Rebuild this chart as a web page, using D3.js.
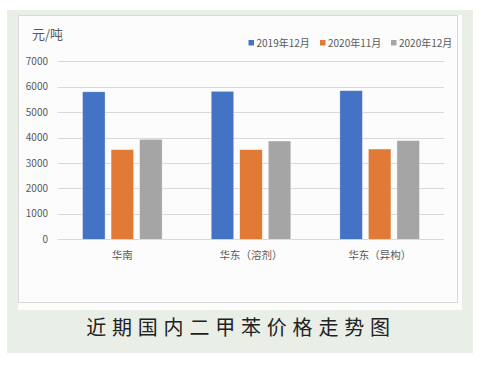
<!DOCTYPE html>
<html>
<head>
<meta charset="utf-8">
<script src="https://cdn.jsdelivr.net/npm/d3@7"></script>
<style>
  html, body { margin: 0; padding: 0; background: #fff; }
  svg { display: block; }
</style>
</head>
<body>
<svg id="chart" width="482" height="369"></svg>
<script>
const categories = ["华南", "华东（溶剂）", "华东（异构）"];
const seriesNames = ["2019年12月", "2020年11月", "2020年12月"];
const values2019Dec = [5800, 5820, 5845];
const values2020Nov = [3525, 3525, 3550];
const values2020Dec = [3930, 3865, 3880];
const yTicks = [0, 1000, 2000, 3000, 4000, 5000, 6000, 7000];
const colors = ["#4472c4", "#e07a35", "#a5a5a5"];
const unitLabel = "元/吨";
const caption = "近期国内二甲苯价格走势图";

const font = "'Noto Sans CJK SC', 'Noto Sans', sans-serif";
const svg = d3.select("#chart");

// backgrounds
svg.append("rect").attr("x", 7).attr("y", 10).attr("width", 466).attr("height", 343).attr("fill", "#e9eee7");
svg.append("rect").attr("x", 18).attr("y", 15).attr("width", 444).attr("height", 295).attr("fill", "#fcfcfc");
svg.append("rect").attr("x", 18.5).attr("y", 15.5).attr("width", 439).attr("height", 287)
  .attr("fill", "#fcfcfc").attr("stroke", "#d9d9d9").attr("stroke-width", 1);

const plot = {l: 58, r: 444, t: 61.3, b: 239.3};

const x = d3.scaleBand().domain(categories).range([plot.l, plot.r]).paddingInner(0).paddingOuter(0);
const y = d3.scaleLinear().domain([0, 7000]).range([plot.b, plot.t]);
const xs = d3.scaleBand().domain(seriesNames).range([0, x.bandwidth()]).paddingInner(0.21).paddingOuter(0.86);

// gridlines
svg.append("g").selectAll("line").data(yTicks).join("line")
  .attr("x1", plot.l).attr("x2", plot.r)
  .attr("y1", d => Math.round(y(d)) + 0.5).attr("y2", d => Math.round(y(d)) + 0.5)
  .attr("stroke", "#d9d9d9").attr("stroke-width", 1);

// y tick labels
svg.append("g").selectAll("text").data(yTicks).join("text")
  .attr("x", 48).attr("y", d => y(d) + 3.5)
  .attr("text-anchor", "end")
  .attr("font-family", font).attr("font-size", 10).attr("fill", "#595959")
  .text(d => d);

// bars
const series = [values2019Dec, values2020Nov, values2020Dec];
series.forEach((vals, si) => {
  svg.append("g").selectAll("rect").data(categories).join("rect")
    .attr("x", c => x(c) + xs(seriesNames[si]))
    .attr("width", xs.bandwidth())
    .attr("y", (c, i) => y(vals[i]))
    .attr("height", (c, i) => y(0) - y(vals[i]))
    .attr("fill", colors[si])
    .attr("stroke", "#ffffff").attr("stroke-opacity", 0.6).attr("stroke-width", 0.6);
});

// category labels
svg.append("g").selectAll("text").data(categories).join("text")
  .attr("x", c => x(c) + x.bandwidth() / 2).attr("y", 259)
  .attr("text-anchor", "middle")
  .attr("font-family", font).attr("font-size", 10.5).attr("fill", "#595959")
  .text(c => c);

// unit
svg.append("text").attr("x", 32).attr("y", 39)
  .attr("font-family", font).attr("font-size", 13).attr("fill", "#595959")
  .text(unitLabel);

// legend
const legendX = [248.5, 320, 391];
const lg = svg.append("g");
seriesNames.forEach((s, i) => {
  lg.append("rect").attr("x", legendX[i]).attr("y", 40).attr("width", 5.5).attr("height", 5.5).attr("fill", colors[i]);
  lg.append("text").attr("x", legendX[i] + 8).attr("y", 46.5)
    .attr("font-family", font).attr("font-size", 10).attr("fill", "#595959")
    .text(s);
});

// caption
svg.append("text").attr("x", 241).attr("y", 335)
  .attr("text-anchor", "middle")
  .attr("font-family", font).attr("font-size", 20).attr("letter-spacing", 5.8)
  .attr("fill", "#222222")
  .text(caption);
</script>
</body>
</html>
